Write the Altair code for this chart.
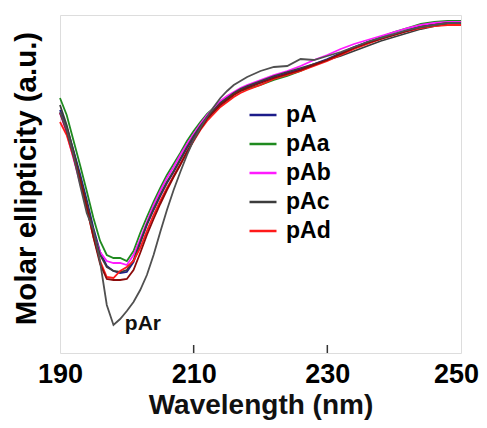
import altair as alt
import pandas as pd

wavelength = [190, 191, 192, 193, 194, 195, 196, 197, 198, 199, 200, 201, 202, 203, 204,
              205, 206, 207, 208, 209, 210, 211, 212, 213, 214, 215, 216, 217, 218,
              220, 222, 224, 226, 228, 230, 232, 234, 236, 238, 240, 242, 244, 246, 248, 250]

pA = [-9.5, -11.2, -13.5, -15.9, -18.5, -21.3, -23.7, -25.1, -25.6, -25.8, -25.7, -24.7, -22.8, -21.0, -19.5,
      -18.1, -16.8, -15.7, -14.5, -13.3, -12.2, -11.2, -10.3, -9.6, -8.9, -8.4, -7.9, -7.5, -7.2,
      -6.7, -6.2, -5.8, -5.4, -4.9, -4.4, -3.8, -3.2, -2.7, -2.3, -1.9, -1.5, -1.1, -0.9, -0.7, -0.7]
pAa = [-8.3, -10.0, -12.5, -15.0, -17.6, -20.3, -22.6, -24.0, -24.3, -24.3, -24.6, -23.6, -21.8, -20.2, -18.7,
       -17.3, -16.0, -14.9, -13.8, -12.6, -11.6, -10.7, -9.9, -9.3, -8.7, -8.3, -7.9, -7.6, -7.4,
       -7.0, -6.5, -6.1, -5.6, -5.0, -4.5, -3.9, -3.3, -2.7, -2.2, -1.7, -1.3, -0.9, -0.7, -0.6, -0.6]
pAb = [-9.8, -11.8, -14.3, -16.8, -19.2, -21.8, -23.7, -24.6, -24.8, -24.8, -25.0, -24.0, -22.4, -20.7, -19.0,
       -17.6, -16.3, -15.2, -14.0, -12.9, -11.9, -10.9, -10.0, -9.3, -8.6, -8.1, -7.7, -7.3, -7.0,
       -6.5, -6.0, -5.6, -5.1, -4.5, -4.0, -3.4, -2.9, -2.5, -2.1, -1.7, -1.3, -1.0, -0.8, -0.7, -0.7]
pAc = [-9.0, -11.0, -13.6, -16.2, -18.8, -21.6, -24.0, -25.2, -25.6, -25.7, -25.5, -24.5, -22.7, -20.9, -19.4,
       -18.0, -16.7, -15.6, -14.4, -13.2, -12.1, -11.1, -10.2, -9.5, -8.8, -8.3, -7.8, -7.4, -7.1,
       -6.6, -6.1, -5.7, -5.3, -4.9, -4.5, -4.1, -3.6, -3.1, -2.6, -2.2, -1.8, -1.4, -1.1, -0.9, -0.8]
pAd = [-10.7, -12.0, -14.2, -16.6, -19.3, -22.2, -24.6, -26.2, -26.3, -25.6, -25.2, -24.6, -23.3, -21.6, -20.0,
       -18.6, -17.3, -16.1, -14.9, -13.7, -12.6, -11.5, -10.6, -9.9, -9.2, -8.7, -8.2, -7.8, -7.5,
       -7.0, -6.4, -6.0, -5.6, -5.1, -4.6, -4.0, -3.4, -2.9, -2.4, -2.0, -1.6, -1.3, -1.1, -1.0, -1.0]
pAd2 = [-9.8, -11.6, -14.0, -16.5, -19.2, -22.2, -24.9, -26.4, -26.5, -26.5, -26.4, -25.5, -23.8, -22.0, -20.4,
        -18.9, -17.5, -16.2, -15.0, -13.7, -12.5, -11.4, -10.4, -9.7, -9.0, -8.5, -8.0, -7.6, -7.3,
        -6.8, -6.3, -5.9, -5.5, -5.0, -4.5, -3.9, -3.3, -2.8, -2.4, -2.0, -1.6, -1.2, -1.0, -0.8, -0.8]
pAr = [-9.7, -11.5, -14.0, -17.0, -19.8, -21.5, -24.7, -29.0, -31.0, -30.4, -29.6, -28.7, -27.5, -26.0, -24.0,
       -21.7, -19.5, -17.5, -15.7, -14.0, -12.5, -11.3, -10.2, -9.2, -8.3, -7.6, -7.0, -6.6, -6.2,
       -5.6, -5.2, -5.1, -4.4, -4.5, -4.1, -3.7, -3.2, -2.7, -2.3, -1.9, -1.5, -1.2, -1.0, -0.8, -0.8]

series_names = ["pA", "pAa", "pAb", "pAc", "pAd", "pAd2", "pAr"]
series_values = [pA, pAa, pAb, pAc, pAd, pAd2, pAr]
series_colors = ["#1c1c8a", "#1f8a1f", "#ff1aff", "#3c3c3c", "#ff1a1a", "#8b0a0a", "#505050"]
legend_names = ["pA", "pAa", "pAb", "pAc", "pAd"]
draw_order = ["pAr", "pAc", "pAd2", "pAd", "pA", "pAb", "pAa"]

rows = []
for name, vals in zip(series_names, series_values):
    for w, v in zip(wavelength, vals):
        rows.append({"wl": w, "ell": v, "series": name, "order": draw_order.index(name)})
df = pd.DataFrame(rows)

FONT = "Liberation Sans"

xscale = alt.Scale(domain=[190, 250], nice=False, zero=False)
yscale = alt.Scale(domain=[-33.8, 0], nice=False, zero=False)

lines = alt.Chart(df).mark_line(strokeWidth=1.8).encode(
    x=alt.X("wl:Q", scale=xscale,
            axis=alt.Axis(title="Wavelength (nm)", values=[190, 210, 230, 250], tickSize=0,
                          domain=False, grid=False, labelFontSize=27, labelFont=FONT,
                          labelFontWeight="bold", labelColor="#000", labelPadding=8,
                          labelFlush=False,
                          labelOffset={"condition": {"test": "datum.value == 250", "value": -5},
                                       "value": 0},
                          titleFontSize=28, titleFont=FONT,
                          titleFontWeight="bold", titleColor="#111", titlePadding=4)),
    y=alt.Y("ell:Q", scale=yscale,
            axis=alt.Axis(title="Molar ellipticity  (a.u.)", labels=False, ticks=False,
                          domain=False, grid=False, titleFontSize=29.5, titleFont=FONT,
                          titleFontWeight="bold", titleColor="#000", titlePadding=19,
                          titleY=163)),
    color=alt.Color("series:N",
                    scale=alt.Scale(domain=series_names, range=series_colors),
                    legend=alt.Legend(values=legend_names, title=None, orient="none",
                                      legendX=188, legendY=85, symbolType="stroke",
                                      symbolSize=729, symbolStrokeWidth=2.5,
                                      labelFontSize=23, labelFont=FONT,
                                      labelFontWeight="bold", labelColor="#000",
                                      labelOffset=8, rowPadding=2, padding=0)),
    detail="series:N",
    order=alt.Order("order:Q"),
)

tick_df = pd.DataFrame({"wl": [210, 230]})
ticks = alt.Chart(tick_df).mark_rule(color="#333", strokeWidth=1.5).encode(
    x=alt.X("wl:Q", scale=xscale),
    y=alt.value(330),
    y2=alt.value(338),
)

label_df = pd.DataFrame({"wl": [199.7], "ell": [-30.9], "text": ["pAr"]})
label = alt.Chart(label_df).mark_text(align="left", baseline="middle", fontSize=21,
                                      font=FONT, fontWeight="bold", color="#111").encode(
    x=alt.X("wl:Q", scale=xscale),
    y=alt.Y("ell:Q", scale=yscale),
    text="text:N",
)

chart = alt.layer(lines, ticks, label).properties(
    width=401, height=338,
    autosize=alt.AutoSizeParams(type="none"),
    padding={"left": 52, "top": 7, "right": 18, "bottom": 67},
).configure_view(stroke="#333", strokeWidth=2).configure(background="white")

chart.save("out.html", embed_options={"renderer": "svg", "actions": False})
